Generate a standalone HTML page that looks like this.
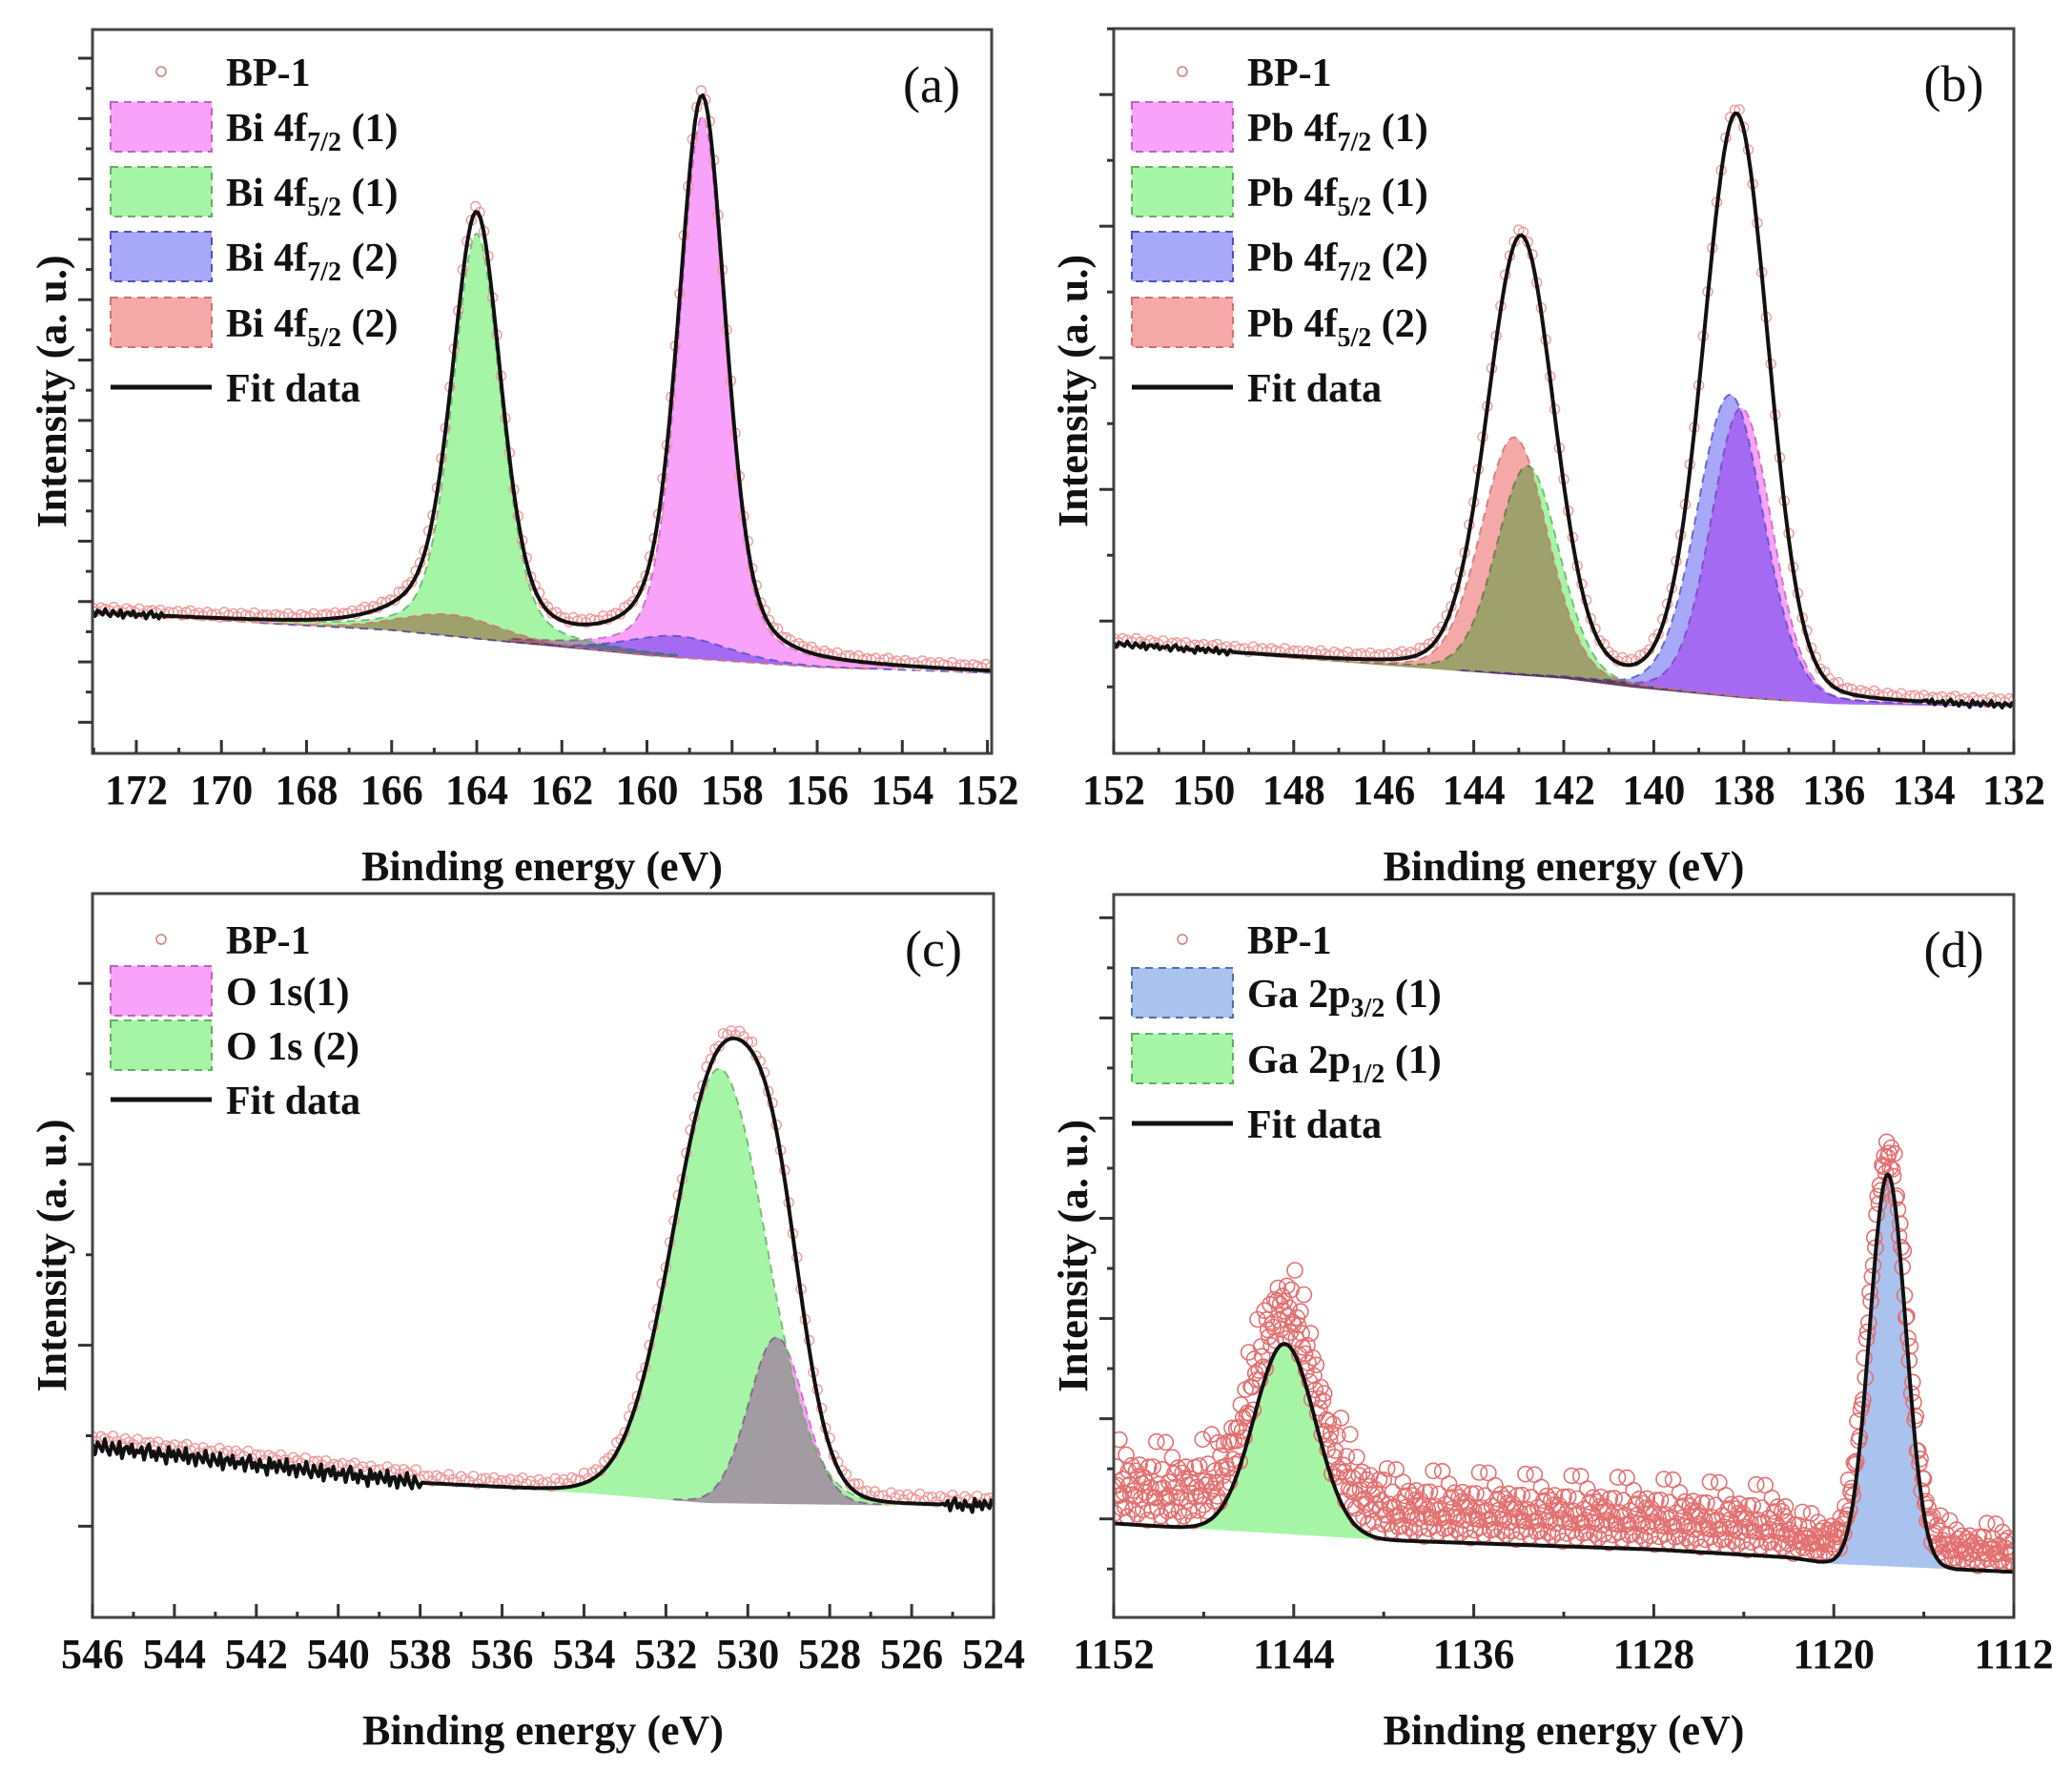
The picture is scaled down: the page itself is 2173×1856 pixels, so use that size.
<!DOCTYPE html>
<html><head><meta charset="utf-8">
<style>
html,body{margin:0;padding:0;background:#fff;}
svg{display:block;}
text{font-family:"Liberation Serif",serif;fill:#111;}
</style></head>
<body>
<svg id="fig" width="2173" height="1856" viewBox="0 0 2173 1856" xmlns="http://www.w3.org/2000/svg"></svg>
<script>
// ---------- Panel (a) Bi 4f ----------
const aTickLabels = [172,170,168,166,164,162,160,158,156,154,152];
const aBaseX = [173.03,166,163,160,156,151.9];
const aBaseY = [19.3,17.0,15.2,13.5,11.9,11.1];
const aPeakCenters = [158.7,164.0,159.3,164.6];
const aPeakHeights = [75,56,3.0,3.0];
const aPeakWidths = [1.3,1.35,2.8,2.8];
const aPeakEta = [0.35,0.35,0.2,0.2];
const aLegendLabels = ["Bi 4f|7/2| (1)","Bi 4f|5/2| (1)","Bi 4f|7/2| (2)","Bi 4f|5/2| (2)"];
// ---------- Panel (b) Pb 4f ----------
const bTickLabels = [152,150,148,146,144,142,140,138,136,134,132];
const bBaseX = [152,145.5,142,140.5,138,136,132];
const bBaseY = [15.0,11.9,10.3,9.1,7.6,6.8,6.4];
const bPeakCenters = [138.05,142.8,138.3,143.1];
const bPeakHeights = [40,29,41.7,32.8];
const bPeakWidths = [1.6,1.65,1.75,1.75];
const bPeakEta = [0.15,0.15,0.15,0.15];
const bLegendLabels = ["Pb 4f|7/2| (1)","Pb 4f|5/2| (1)","Pb 4f|7/2| (2)","Pb 4f|5/2| (2)"];
// ---------- Panel (c) O 1s ----------
const cTickLabels = [546,544,542,540,538,536,534,532,530,528,526,524];
const cBaseX = [546,538,534,531,524];
const cBaseY = [23.6,18.5,17.2,15.8,15.3];
const cPeakCenters = [529.3,530.7];
const cPeakHeights = [23,60];
const cPeakWidths = [1.6,2.7];
const cPeakEta = [0.05,0.05];
const cLegendLabels = ["O 1s(1)","O 1s (2)"];
// ---------- Panel (d) Ga 2p ----------
const dTickLabels = [1152,1144,1136,1128,1120,1112];
const dBaseX = [1152,1140,1128,1122,1120,1112];
const dBaseY = [13.0,10.7,9.4,8.3,7.4,6.3];
const dPeakCenters = [1117.6,1144.4];
const dPeakHeights = [54.2,26.3];
const dPeakWidths = [1.9,3.2];
const dPeakEta = [0.0,0.0];
const dLegendLabels = ["Ga 2p|3/2| (1)","Ga 2p|1/2| (1)"];
// measurement noise residuals (hand-read scatter)
const noiseVals = [0.3,-0.8,0.5,0.1,-0.4,0.9,-0.2,-0.7,0.6,0.0,-0.5,0.8,-0.9,0.2,0.4,-0.3,0.7,-0.6,0.1,-0.1,0.5,-0.8,0.3,0.9,-0.4,0.2,-0.7,0.6,-0.2,0.0,-0.95,0.85,-0.15,0.45,-0.55,0.65,0.05,-0.35,0.95,-0.65,0.25];

const NS = "http://www.w3.org/2000/svg";
const svg = document.getElementById('fig');
function mk(tag, attrs, parent){
  const e = document.createElementNS(NS, tag);
  for (const k in attrs) e.setAttribute(k, attrs[k]);
  (parent||svg).appendChild(e);
  return e;
}
const COL = {
  pink:{fill:"#f9a2f9",edge:"#c060c0"},
  green:{fill:"#a6f5a6",edge:"#60b060"},
  blue:{fill:"#a8a8f8",edge:"#5050c0"},
  red:{fill:"#f5a8a8",edge:"#d07070"},
  steel:{fill:"#a9c3ee",edge:"#5070b0"}
};
function pv(x,c,h,w,eta){
  const d=(x-c)/w;
  const g=Math.exp(-4*Math.LN2*d*d);
  const l=1/(1+4*d*d);
  return h*(eta*l+(1-eta)*g);
}
function interp(x,xs,ys){
  for(let i=0;i<xs.length-1;i++){
    const x0=xs[i],x1=xs[i+1];
    if((x<=x0&&x>=x1)||(x>=x0&&x<=x1)){
      const t=(x-x0)/(x1-x0); return ys[i]+t*(ys[i+1]-ys[i]);
    }
  }
  return x>xs[0]===xs[0]>xs[xs.length-1]?ys[0]:ys[ys.length-1];
}

function drawPanel(P){
  const g = mk('g',{});
  
  
  const X = v => P.L + (P.xl - v)/(P.xl - P.xr)*(P.R - P.L);
  const Y = v => P.B - v/100*(P.B - P.T);
  const base = x => interp(x,P.baseX,P.baseY);
  const comp = (x,i) => pv(x,P.centers[i],P.heights[i],P.widths[i],P.eta[i]);
  const fitv = x => { let s=base(x); for(let i=0;i<P.centers.length;i++) s+=comp(x,i); return s; };
  const clipId='clip-'+P.id;
  const defs=mk('defs',{},g);
  const cp=mk('clipPath',{id:clipId},defs);
  mk('rect',{x:P.L,y:P.T,width:P.R-P.L,height:P.B-P.T},cp);
  const plot=mk('g',{'clip-path':'url(#'+clipId+')'},g);
  
  
  const lo=Math.min(P.xl,P.xr), hi=Math.max(P.xl,P.xr);
  for(let i=0;i<P.centers.length;i++){
    const c=COL[P.colors[i]];
    const span=P.widths[i]*(P.eta[i]>0.1?3.5:1.6);
    const a=Math.max(lo,P.centers[i]-span), b=Math.min(hi,P.centers[i]+span);
    let top="", bot=[];
    for(let x=a;x<=b+1e-9;x+=0.02){
      top += (top?"L":"M")+X(x).toFixed(1)+","+Y(base(x)+comp(x,i)).toFixed(1);
      bot.push(X(x).toFixed(1)+","+Y(base(x)).toFixed(1));
    }
    const area=mk('path',{d:top+"L"+bot.reverse().join("L")+"Z",fill:c.fill,style:"mix-blend-mode:multiply"},plot);
    
    
    const edge=mk('path',{d:top,fill:"none",stroke:c.edge,'stroke-width':2,'stroke-dasharray':"9,6",opacity:0.8},plot);
    
    
  }
  const pts=mk('g',{fill:"none",stroke:P.ptColor,'stroke-width':P.ptW},plot);
  
  
  let k=0;
  for(let x=hi;x>=lo-1e-9;x-=P.ptStep){
    let v=fitv(x)+P.ptOffset(x,noiseVals[k%noiseVals.length],noiseVals[(k*7+3)%noiseVals.length]);
    const c=mk('circle',{cx:X(x).toFixed(1),cy:Y(v).toFixed(1),r:P.ptR},pts);
    
    
    k++;
  }
  let d="";k=0;
  for(let x=hi;x>=lo-1e-9;x-=0.06){
    const v=fitv(x)+P.lineNoise(x)*noiseVals[k%noiseVals.length];
    d+=(d?"L":"M")+X(x).toFixed(1)+","+Y(v).toFixed(1); k++;
  }
  const fl=mk('path',{d:d,fill:"none",stroke:"#111",'stroke-width':4,'stroke-linejoin':'round'},plot);
  
  
  const fr=mk('rect',{x:P.L,y:P.T,width:P.R-P.L,height:P.B-P.T,fill:"none",stroke:"#444",'stroke-width':3},g);
  
  
  for(let x=Math.ceil(lo/P.minor)*P.minor;x<=hi+1e-9;x+=P.minor){
    const major=P.ticks.indexOf(Math.round(x))>=0 && Math.abs(x-Math.round(x))<1e-6;
    const t=mk('line',{x1:X(x),x2:X(x),y1:P.B,y2:P.B-(major?14:6),stroke:"#333",'stroke-width':3},g);
    
    
  }
  for(const v of P.ticks){
    const t=mk('text',{x:X(v),y:P.B+53,'text-anchor':'middle','font-size':44,'font-weight':'bold'},g);
    t.textContent=v;
    
    
  }
  let j=0;
  for(let v=P.yStart;v<100;v+=P.yStep){
    const major=(j%2===P.yMajorParity);
    const t=mk('line',{x1:P.L,x2:P.L-(major?15:7),y1:Y(v),y2:Y(v),stroke:"#333",'stroke-width':3},g);
    
    
    j++;
  }
  const xt=mk('text',{x:(P.L+P.R)/2,y:P.B+133,'text-anchor':'middle','font-size':44,'font-weight':'bold'},g);
  xt.textContent="Binding energy (eV)";
  
  
  const yc=(P.T+P.B)/2;
  const yt=mk('text',{x:P.L-43,y:yc,'text-anchor':'middle','font-size':44,'font-weight':'bold',transform:'rotate(-90 '+(P.L-43)+' '+yc+')',dy:15},g);
  yt.textContent="Intensity (a. u.)";
  
  
  const pl=mk('text',{x:P.R-63,y:P.T+76,'text-anchor':'middle','font-size':54},g);
  pl.textContent="("+P.id+")";
  
  
  const lg=mk('g',{},g);
  
  
  const sx=P.L+19, sw=106, tx=P.L+140;
  const e0=mk('circle',{cx:sx+53,cy:P.legY[0],r:5,fill:'none',stroke:'#d08080','stroke-width':1.5},lg);
  
  
  const t0=mk('text',{x:tx,y:P.legY[0]+15,'font-size':42,'font-weight':'bold'},lg);
  t0.textContent="BP-1";
  
  
  for(let i=0;i<P.legend.length;i++){
    const cy=P.legY[i+1], c=COL[P.legColors[i]];
    const r=mk('rect',{x:sx,y:cy-26,width:sw,height:52,fill:c.fill,stroke:c.edge,'stroke-width':2,'stroke-dasharray':'8,6'},lg);
    
    
    const parts=P.legend[i].split('|');
    const t=mk('text',{x:tx,y:cy+15,'font-size':42,'font-weight':'bold'},lg);
    
    
    const s1=mk('tspan',{},t); s1.textContent=parts[0];
    if(parts.length>1){
      const s2=mk('tspan',{'font-size':28,dy:10},t); s2.textContent=parts[1];
      const s3=mk('tspan',{dy:-10},t); s3.textContent=parts[2];
    }
  }
  const fy=P.legY[P.legY.length-1];
  const ll=mk('line',{x1:sx,x2:sx+sw,y1:fy,y2:fy,stroke:'#111','stroke-width':5},lg);
  
  
  const ft=mk('text',{x:tx,y:fy+15,'font-size':42,'font-weight':'bold'},lg);
  ft.textContent="Fit data";
  
  
}

drawPanel({id:'a',L:97,R:1040,T:31,B:790,xl:173.03,xr:151.9,ticks:aTickLabels,minor:1,
  baseX:aBaseX,baseY:aBaseY,centers:aPeakCenters,heights:aPeakHeights,widths:aPeakWidths,eta:aPeakEta,
  colors:['pink','green','blue','red'],legColors:['pink','green','blue','red'],legend:aLegendLabels,
  legY:[75,133,201,269,338,406],yStart:4.3,yStep:4.17,yMajorParity:0,
  ptStep:0.1,ptR:5,ptW:1.4,ptColor:'#ef9a9a',
  ptOffset:(x,n)=>0.5+0.4*n, lineNoise:x=>x>171.3?0.6:0});
drawPanel({id:'b',L:1168,R:2112,T:30,B:790,xl:152,xr:132,ticks:bTickLabels,minor:1,
  baseX:bBaseX,baseY:bBaseY,centers:bPeakCenters,heights:bPeakHeights,widths:bPeakWidths,eta:bPeakEta,
  colors:['pink','green','blue','red'],legColors:['pink','green','blue','red'],legend:bLegendLabels,
  legY:[75,133,201,269,338,406],yStart:9.18,yStep:9.08,yMajorParity:1,
  ptStep:0.1,ptR:5,ptW:1.4,ptColor:'#ef9a9a',
  ptOffset:(x,n)=>0.6+0.4*n, lineNoise:x=>(x>149.3||x<134)?0.5:0});
drawPanel({id:'c',L:97,R:1042,T:937,B:1696,xl:546,xr:524,ticks:cTickLabels,minor:1,
  baseX:cBaseX,baseY:cBaseY,centers:cPeakCenters,heights:cPeakHeights,widths:cPeakWidths,eta:cPeakEta,
  colors:['pink','green'],legColors:['pink','green'],legend:cLegendLabels,
  legY:[985,1039,1096,1153],yStart:12.6,yStep:12.5,yMajorParity:0,
  ptStep:0.1,ptR:5,ptW:1.4,ptColor:'#ef9a9a',
  ptOffset:(x,n)=>(x>538?1.2:0.8)+0.6*n, lineNoise:x=>x>538?1.3:(x<525.3?1.0:0)});
drawPanel({id:'d',L:1168,R:2112,T:938,B:1696,xl:1152,xr:1112,ticks:dTickLabels,minor:4,
  baseX:dBaseX,baseY:dBaseY,centers:dPeakCenters,heights:dPeakHeights,widths:dPeakWidths,eta:dPeakEta,
  colors:['steel','green'],legColors:['steel','green'],legend:dLegendLabels,
  legY:[985,1041,1110,1178],yStart:6.7,yStep:6.93,yMajorParity:1,
  ptStep:0.05,ptR:8,ptW:1.6,ptColor:'#e27070',
  ptOffset:(x,n,m)=>{const amp=x>1140?12:(x>1122?10:6.5);return amp*(n+1)/2*(0.55+0.45*Math.abs(m))+0.5;},
  lineNoise:x=>0});
</script>
</body></html>
